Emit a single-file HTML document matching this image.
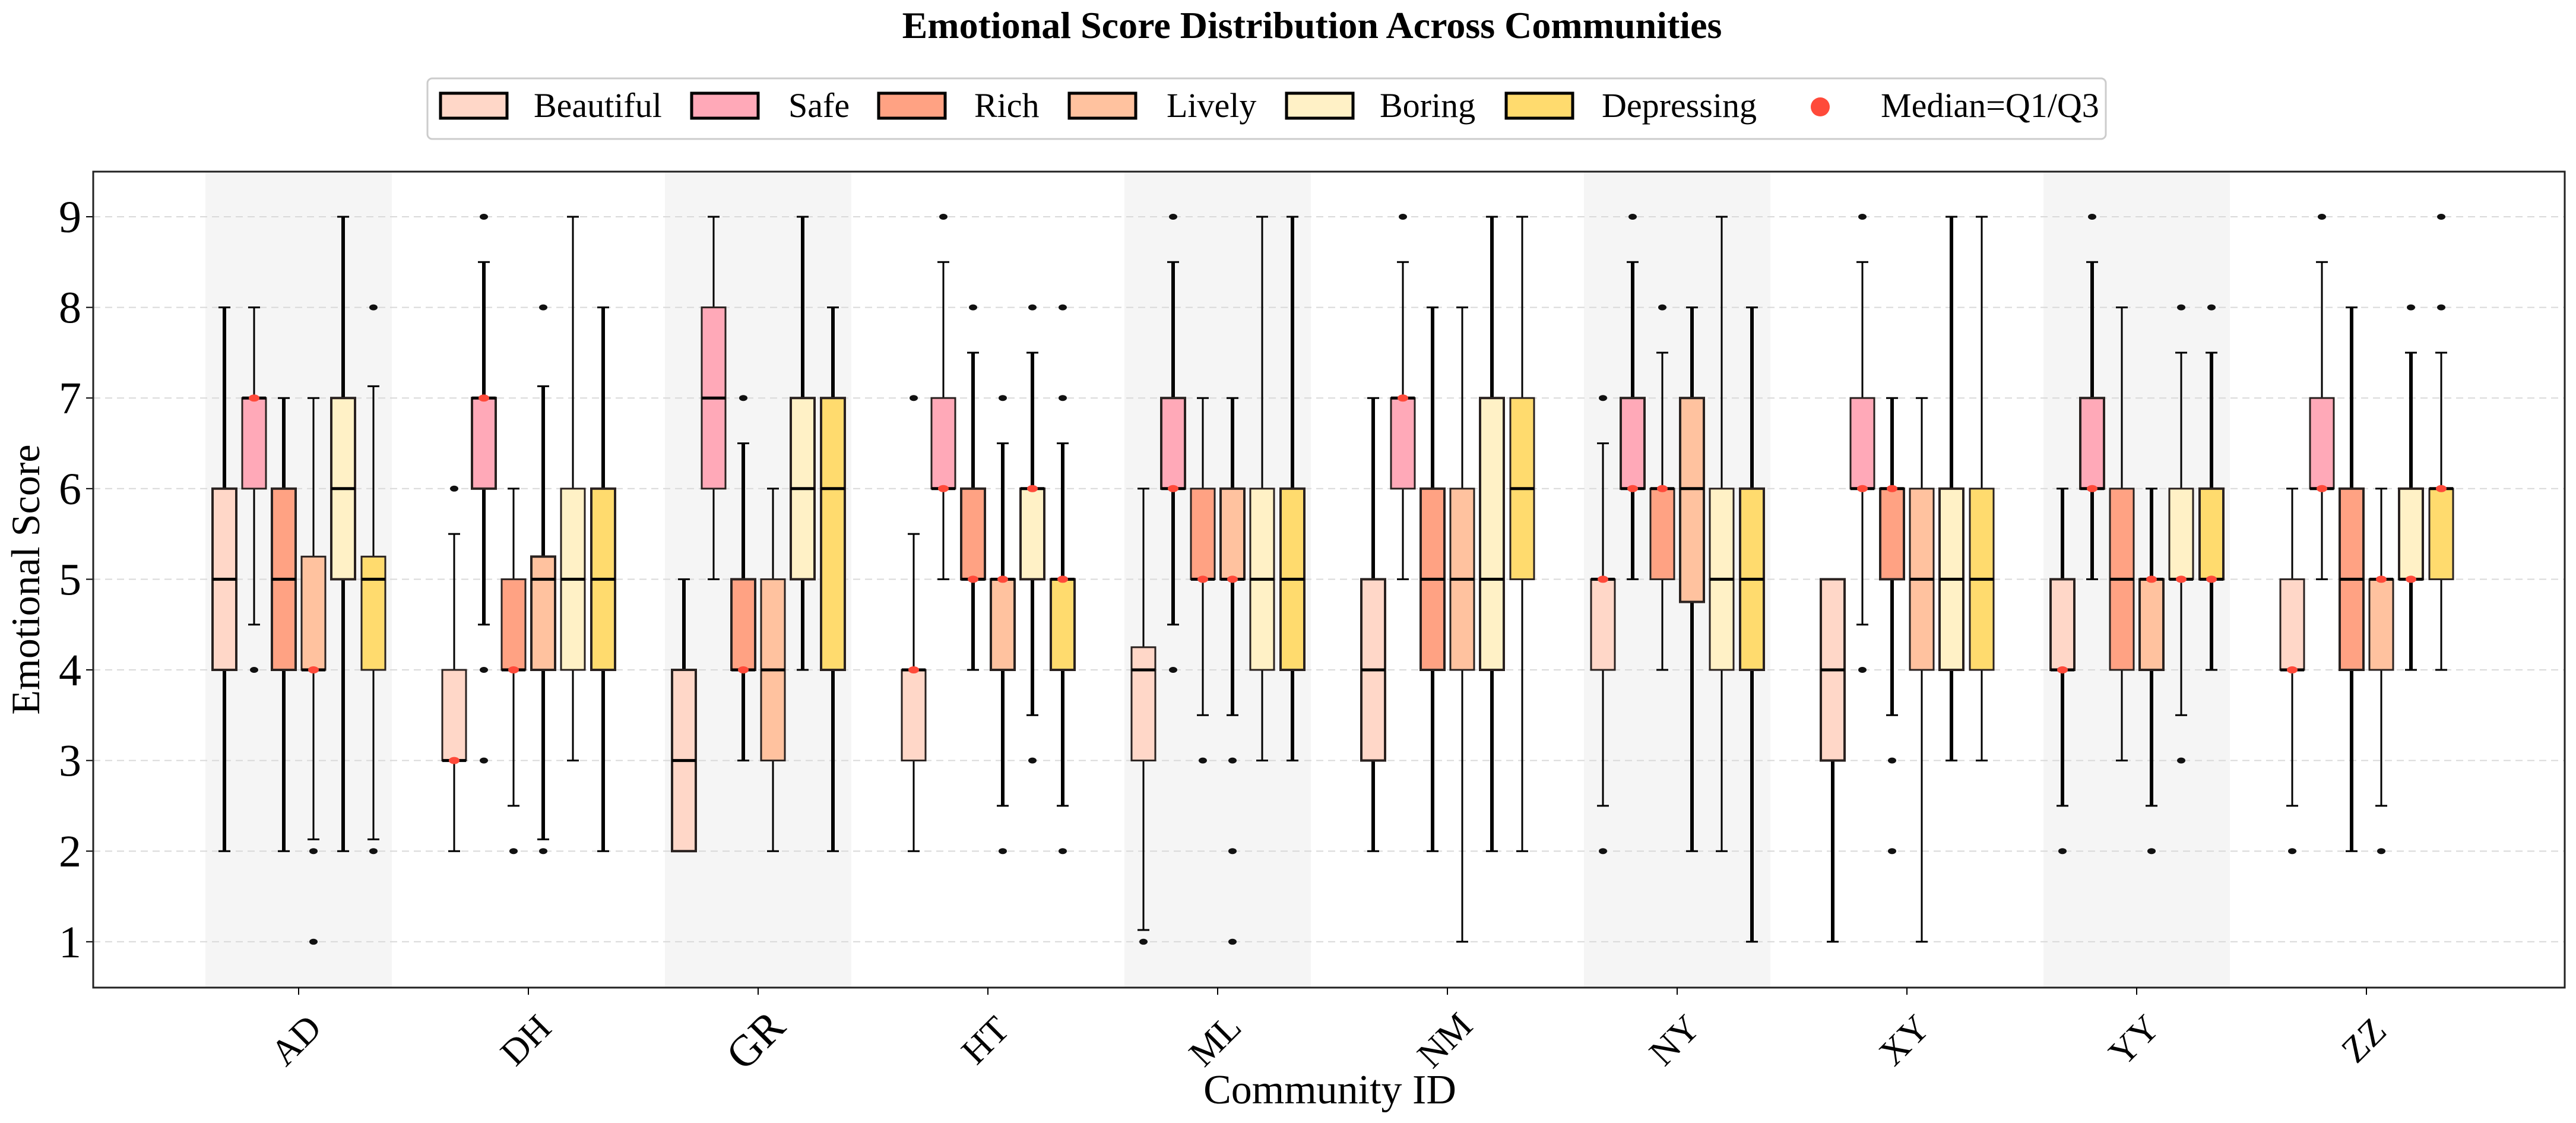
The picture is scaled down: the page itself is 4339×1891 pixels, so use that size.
<!DOCTYPE html>
<html><head><meta charset="utf-8"><style>
html,body{margin:0;padding:0;background:#fff}
svg{display:block;font-family:"Liberation Serif",serif}
</style></head><body>
<svg id="chart" width="4339" height="1891" viewBox="0 0 4339 1891" xmlns="http://www.w3.org/2000/svg">
<text x="2210" y="64" text-anchor="middle" font-size="64" font-weight="bold">Emotional Score Distribution Across Communities</text>
<g id="legend"></g>
<g id="plot"></g>
<text x="0" y="0" transform="translate(66,976) rotate(-90)" text-anchor="middle" font-size="68">Emotional Score</text>
<text x="2240" y="1858" text-anchor="middle" font-size="70">Community ID</text>
</svg>
<script>
const communities = ["AD","DH","GR","HT","ML","NM","NY","XY","YY","ZZ"];
const seriesNames = ["Beautiful","Safe","Rich","Lively","Boring","Depressing"];
const yTicks = [1,2,3,4,5,6,7,8,9];
// each entry: [whiskerLow, q1, median, q3, whiskerHigh, outliers, thickWhisker(1/0)]
const beautiful = [
 [2,4,5,6,8,[],1],[2,3,3,4,5.5,[6],0],[2,2,3,4,5,[],1],[2,3,4,4,5.5,[7],0],[1.13,3,4,4.25,6,[1],0],
 [2,3,4,5,7,[],1],[2.5,4,5,5,6.5,[7,2],0],[1,3,4,5,5,[],1],[2.5,4,4,5,6,[2],1],[2.5,4,4,5,6,[2],0]];
const safe = [
 [4.5,6,7,7,8,[4],0],[4.5,6,7,7,8.5,[9,4,3],1],[5,6,7,8,9,[],0],[5,6,6,7,8.5,[9],0],[4.5,6,6,7,8.5,[9,4],1],
 [5,6,7,7,8.5,[9],0],[5,6,6,7,8.5,[9],1],[4.5,6,6,7,8.5,[9,4],0],[5,6,6,7,8.5,[9],1],[5,6,6,7,8.5,[9],0]];
const rich = [
 [2,4,5,6,7,[],1],[2.5,4,4,5,6,[2],0],[3,4,4,5,6.5,[7],1],[4,5,5,6,7.5,[8],1],[3.5,5,5,6,7,[3],0],
 [2,4,5,6,8,[],1],[4,5,6,6,7.5,[8],0],[3.5,5,6,6,7,[3,2],1],[3,4,5,6,8,[],0],[2,4,5,6,8,[],1]];
const lively = [
 [2.13,4,4,5.25,7,[2,1],0],[2.13,4,5,5.25,7.13,[8,2],1],[2,3,4,5,6,[],0],[2.5,4,5,5,6.5,[7,2],1],[3.5,5,5,6,7,[3,2,1],1],
 [1,4,5,6,8,[],0],[2,4.75,6,7,8,[],1],[1,4,5,6,7,[],0],[2.5,4,5,5,6,[2],1],[2.5,4,5,5,6,[2],0]];
const boring = [
 [2,5,6,7,9,[],1],[3,4,5,6,9,[],0],[4,5,6,7,9,[],1],[3.5,5,6,6,7.5,[8,3],1],[3,4,5,6,9,[],0],
 [2,4,5,7,9,[],1],[2,4,5,6,9,[],0],[3,4,5,6,9,[],1],[3.5,5,5,6,7.5,[8,3],0],[4,5,5,6,7.5,[8],1]];
const depressing = [
 [2.13,4,5,5.25,7.13,[8,2],0],[2,4,5,6,8,[],1],[2,4,6,7,8,[],1],[2.5,4,5,5,6.5,[8,7,2],1],[3,4,5,6,9,[],1],
 [2,5,6,7,9,[],0],[1,4,5,6,8,[],1],[3,4,5,6,9,[],0],[4,5,5,6,7.5,[8],1],[4,5,6,6,7.5,[9,8],0]];
const allSeries = [beautiful,safe,rich,lively,boring,depressing];
const colors = ["#FFD7C8","#FFA9B8","#FFA283","#FFC29F","#FFF1C6","#FFDB6E"];

const NS="http://www.w3.org/2000/svg";
const L=157,R=4320,T=289,B=1663;
function yScale(v){return 365+(9-v)*152.6;}
function xScale(i){return 503+i*387;}
const offs=[-125,-75,-25,25,75,126];
function mk(tag,attrs,parent){const e=document.createElementNS(NS,tag);for(const k in attrs)e.setAttribute(k,attrs[k]);parent.appendChild(e);return e;}
const plot=document.getElementById('plot');

communities.forEach((c,i)=>{ if(i%2===0){
  const r=mk('rect',{x:xScale(i)-157,y:T,width:314,height:B-T,fill:'#f5f5f5'},plot);
  
  
}});
yTicks.forEach(v=>{
  const g=mk('line',{x1:L,x2:R,y1:yScale(v),y2:yScale(v),stroke:'#d9d9d9','stroke-width':2,'stroke-dasharray':'12,8'},plot);
  
  
  const t=mk('line',{x1:L-12,x2:L,y1:yScale(v),y2:yScale(v),stroke:'#000','stroke-width':2},plot);
  
  
  const tx=mk('text',{x:L-20,y:yScale(v)+26,'text-anchor':'end','font-size':76},plot);
  
  
  tx.textContent=v;
});
allSeries.forEach((ser,s)=>{
  ser.forEach((d,i)=>{
    const [lo,q1,med,q3,hi,outs,thick]=d;
    const cx=xScale(i)+offs[s], w=40, sw=thick?6:3;
    const g=mk('g',{},plot);
    
    
    mk('line',{x1:cx,x2:cx,y1:yScale(q3),y2:yScale(hi),stroke:'#000','stroke-width':sw},g);
    mk('line',{x1:cx,x2:cx,y1:yScale(q1),y2:yScale(lo),stroke:'#000','stroke-width':sw},g);
    mk('line',{x1:cx-10,x2:cx+10,y1:yScale(hi),y2:yScale(hi),stroke:'#000','stroke-width':3},g);
    mk('line',{x1:cx-10,x2:cx+10,y1:yScale(lo),y2:yScale(lo),stroke:'#000','stroke-width':3},g);
    mk('rect',{x:cx-w/2,y:yScale(q3),width:w,height:yScale(q1)-yScale(q3),fill:colors[s],stroke:'#2a2220','stroke-width':thick?4:3},g);
    mk('line',{x1:cx-w/2,x2:cx+w/2,y1:yScale(med),y2:yScale(med),stroke:'#000','stroke-width':5},g);
    if(med===q1||med===q3){
      const dot=mk('ellipse',{cx:cx,cy:yScale(med),rx:9,ry:6,fill:'#ff4a3a'},g);
      
      
    }
    outs.forEach(o=>{
      const p=mk('ellipse',{cx:cx,cy:yScale(o),rx:7,ry:5,fill:'#111'},g);
      
      
    });
  });
});
const fr=mk('rect',{x:L,y:T,width:R-L,height:B-T,fill:'none',stroke:'#222','stroke-width':3},plot);


communities.forEach((c,i)=>{
  const t=mk('line',{x1:xScale(i),x2:xScale(i),y1:B,y2:B+12,stroke:'#000','stroke-width':2},plot);
  
  
  const tx=mk('text',{x:0,y:0,transform:'translate('+(xScale(i)-4)+',1752) rotate(-45)','text-anchor':'middle','dominant-baseline':'central','font-size':i===2?74:62},plot);
  
  
  tx.textContent=c;
});
const lg=document.getElementById('legend');
const fb=mk('rect',{x:720,y:132,width:2827,height:102,rx:8,fill:'#fff',stroke:'#cccccc','stroke-width':3},lg);


const patchX=[742,1165,1480,1801,2167,2537];
const textX=[899,1328,1641,1965,2324,2698];
seriesNames.forEach((n,s)=>{
  const g=mk('g',{},lg);
  
  
  mk('rect',{x:patchX[s],y:157,width:112,height:42,fill:colors[s],stroke:'#000','stroke-width':5},g);
  const t=mk('text',{x:textX[s],y:197,'font-size':58},g);
  t.textContent=n;
});
const mg=mk('g',{},lg);


mk('circle',{cx:3066,cy:180,r:16,fill:'#ff4a3a'},mg);
const mt=mk('text',{x:3168,y:197,'font-size':58},mg);
mt.textContent='Median=Q1/Q3';
</script>
</body></html>
